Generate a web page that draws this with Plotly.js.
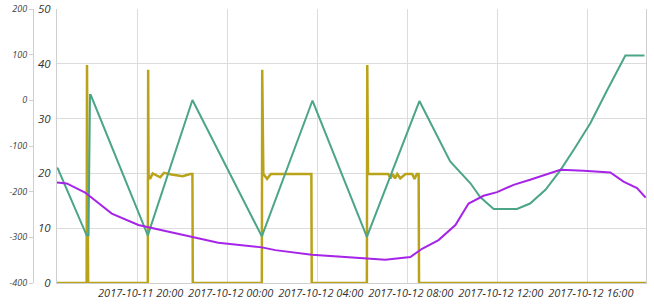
<!DOCTYPE html>
<html>
<head>
<meta charset="utf-8">
<script src="https://cdn.plot.ly/plotly-3.0.1.min.js"></script>
<style>
html,body{margin:0;padding:0;background:#fff;}
#chart{width:654px;height:307px;}
</style>
</head>
<body>
<div id="chart"></div>
<script>
// Yellow (olive) series — left inner axis (0..50)
const yellowTimes = [
  "2017-10-11 16:25","2017-10-11 17:44","2017-10-11 17:45","2017-10-11 17:47","2017-10-11 17:48",
  "2017-10-11 20:27","2017-10-11 20:28","2017-10-11 20:29","2017-10-11 20:33","2017-10-11 20:40",
  "2017-10-11 21:00","2017-10-11 21:10","2017-10-11 21:30","2017-10-11 22:00","2017-10-11 22:20",
  "2017-10-11 22:26","2017-10-11 22:27",
  "2017-10-12 01:31","2017-10-12 01:32","2017-10-12 01:35","2017-10-12 01:45","2017-10-12 01:55",
  "2017-10-12 02:07","2017-10-12 03:43","2017-10-12 03:44",
  "2017-10-12 06:11","2017-10-12 06:12","2017-10-12 06:14","2017-10-12 07:08","2017-10-12 07:14",
  "2017-10-12 07:20","2017-10-12 07:26","2017-10-12 07:32","2017-10-12 07:40","2017-10-12 07:54",
  "2017-10-12 08:12","2017-10-12 08:18","2017-10-12 08:24","2017-10-12 08:29","2017-10-12 08:30",
  "2017-10-12 18:35"
];
const yellowValues = [
  0, 0, 39.8, 20, 0,
  0, 38.9, 19.7, 19.0, 20.0,
  19.3, 20.1, 19.8, 19.5, 19.9,
  19.9, 0,
  0, 38.9, 19.9, 19.0, 19.9,
  19.9, 19.9, 0,
  0, 39.8, 19.9, 19.9, 19.1,
  19.9, 19.1, 19.9, 19.1, 19.9,
  19.9, 19.0, 19.9, 19.9, 0,
  0
];

// Purple series — outer left axis (-400..200)
const purpleTimes = [
  "2017-10-11 16:25","2017-10-11 16:51","2017-10-11 17:40","2017-10-11 18:07","2017-10-11 18:51",
  "2017-10-11 20:02","2017-10-11 21:22","2017-10-11 22:25","2017-10-11 23:35","2017-10-12 01:31",
  "2017-10-12 02:07","2017-10-12 03:44","2017-10-12 06:07","2017-10-12 07:00","2017-10-12 08:07",
  "2017-10-12 08:38","2017-10-12 09:22","2017-10-12 10:07","2017-10-12 10:42","2017-10-12 11:22",
  "2017-10-12 11:58","2017-10-12 12:42","2017-10-12 13:26","2017-10-12 14:20","2017-10-12 14:47",
  "2017-10-12 15:49","2017-10-12 17:00","2017-10-12 17:35","2017-10-12 18:11","2017-10-12 18:34"
];
const purpleValues = [
  -180, -182, -202, -219, -248,
  -273, -288, -299, -312, -322,
  -328, -338, -346, -349, -343,
  -325, -306, -273, -226, -209,
  -201, -185, -174, -160, -152,
  -154, -158, -178, -192, -213
];

// Green series — left inner axis (0..50)
const greenTimes = [
  "2017-10-11 16:25","2017-10-11 16:27","2017-10-11 17:44","2017-10-11 17:49","2017-10-11 17:53",
  "2017-10-11 17:55","2017-10-11 20:27","2017-10-11 22:26","2017-10-12 01:31","2017-10-12 03:46",
  "2017-10-12 06:11","2017-10-12 08:31","2017-10-12 09:53","2017-10-12 10:47","2017-10-12 11:13",
  "2017-10-12 11:49","2017-10-12 12:51","2017-10-12 13:26","2017-10-12 14:07","2017-10-12 14:47",
  "2017-10-12 15:25","2017-10-12 16:07","2017-10-12 16:50","2017-10-12 17:40","2017-10-12 18:31"
];
const greenValues = [
  21.0, 20.9, 8.7, 8.7, 34.3,
  34.3, 8.7, 33.4, 8.5, 33.3,
  8.4, 33.2, 22.2, 18.2, 15.7,
  13.5, 13.5, 14.5, 17.0, 20.6,
  24.6, 29.2, 35.0, 41.5, 41.5
];

const yTicks = [0, 10, 20, 30, 40, 50];
const y2Ticks = [-400, -300, -200, -100, 0, 100, 200];

const COL_YELLOW = "#b9a31a";
const COL_PURPLE = "#a624e8";
const COL_GREEN = "#4ba588";

const traces = [
  {x: yellowTimes, y: yellowValues, type: "scatter", mode: "lines", yaxis: "y",
   line: {color: COL_YELLOW, width: 2.5}, hoverinfo: "skip", showlegend: false},
  {x: purpleTimes, y: purpleValues, type: "scatter", mode: "lines", yaxis: "y2",
   line: {color: COL_PURPLE, width: 2}, hoverinfo: "skip", showlegend: false},
  {x: greenTimes, y: greenValues, type: "scatter", mode: "lines", yaxis: "y",
   line: {color: COL_GREEN, width: 2}, hoverinfo: "skip", showlegend: false}
];

const W = 654, L = 33, R = 8;
const plotW = W - L - R;
const layout = {
  width: 654, height: 307,
  margin: {l: L, r: R, t: 9, b: 24, pad: 0},
  paper_bgcolor: "#ffffff", plot_bgcolor: "#ffffff",
  showlegend: false,
  font: {family: "Open Sans, sans-serif", color: "#333"},
  xaxis: {
    type: "date",
    domain: [(57 - L) / plotW, 1],
    tick0: "2017-10-11 00:00", dtick: 4 * 3600 * 1000,
    tickformat: "%Y-%m-%d %H:%M",
    tickfont: {size: 11, color: "#333", style: "italic"},
    ticklabelshift: 3,
    showgrid: true, gridcolor: "#dcdcdc", gridwidth: 1,
    showline: true, linecolor: "#cfcfcf", linewidth: 1, mirror: false,
    ticks: "", zeroline: false, fixedrange: true
  },
  yaxis: {
    range: [0, 50], tickvals: yTicks, ticktext: yTicks.map(String),
    tickfont: {size: 11.5, color: "#333", style: "italic"},
    showgrid: true, gridcolor: "#dcdcdc", gridwidth: 1,
    showline: true, linecolor: "#cfcfcf", linewidth: 1, mirror: true,
    ticks: "", ticklabelstandoff: 3, zeroline: false, fixedrange: true
  },
  yaxis2: {
    overlaying: "y", side: "left", anchor: "free", position: 0,
    range: [-400, 200], tickvals: y2Ticks, ticktext: y2Ticks.map(String),
    tickfont: {size: 9, color: "#444", style: "italic"},
    showgrid: false, zeroline: false,
    showline: true, linecolor: "#cfcfcf", linewidth: 1,
    ticks: "outside", ticklen: 4, tickcolor: "#cfcfcf", fixedrange: true
  }
};

Plotly.newPlot("chart", traces, layout, {displayModeBar: false, staticPlot: true});
</script>
</body>
</html>
